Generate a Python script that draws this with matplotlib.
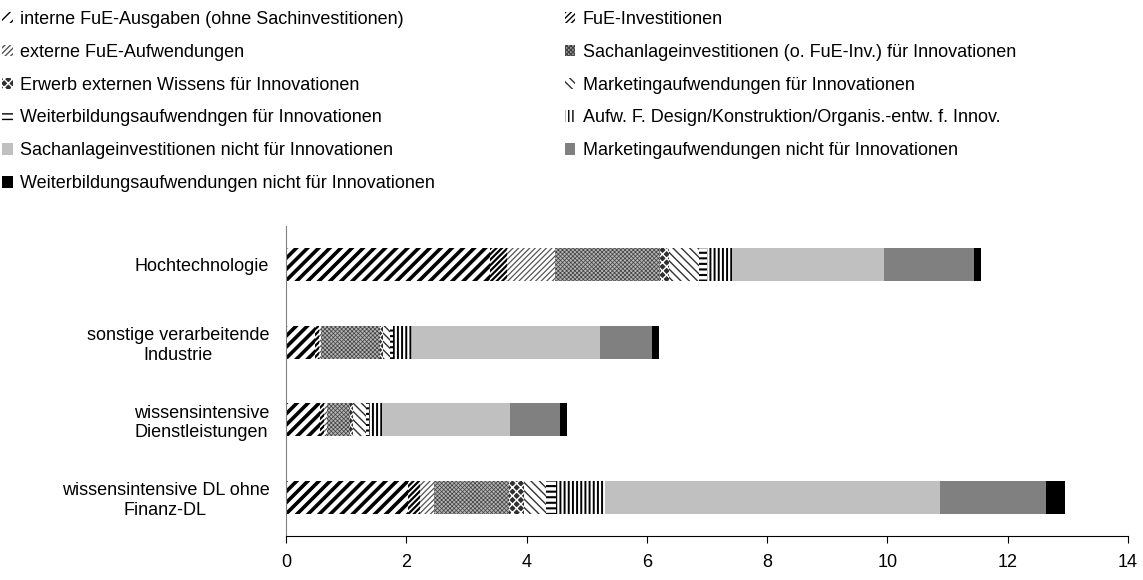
import matplotlib
matplotlib.use('Agg')
import matplotlib.pyplot as plt
from matplotlib.patches import Patch
import numpy as np

plt.rcParams['font.family'] = ['Liberation Sans', 'DejaVu Sans']

# categories (top to bottom)
categories = ['Hochtechnologie', 'sonstige verarbeitende\nIndustrie',
              'wissensintensive\nDienstleistungen', 'wissensintensive DL ohne\nFinanz-DL']

series_names = [
    'interne FuE-Ausgaben (ohne Sachinvestitionen)',
    'FuE-Investitionen',
    'externe FuE-Aufwendungen',
    'Sachanlageinvestitionen (o. FuE-Inv.) für Innovationen',
    'Erwerb externen Wissens für Innovationen',
    'Marketingaufwendungen für Innovationen',
    'Weiterbildungsaufwendngen für Innovationen',
    'Aufw. F. Design/Konstruktion/Organis.-entw. f. Innov.',
    'Sachanlageinvestitionen nicht für Innovationen',
    'Marketingaufwendungen nicht für Innovationen',
    'Weiterbildungsaufwendungen nicht für Innovationen',
]

# values per series, order as categories
interne_fue = [3.39, 0.48, 0.57, 2.03]
fue_inv = [0.28, 0.07, 0.06, 0.20]
externe_fue = [0.80, 0.04, 0.05, 0.23]
sachanlage_inno = [1.75, 0.97, 0.38, 1.24]
erwerb_wissen = [0.14, 0.05, 0.05, 0.26]
marketing_inno = [0.50, 0.12, 0.22, 0.37]
weiterbildung_inno = [0.14, 0.05, 0.05, 0.16]
design_inno = [0.41, 0.31, 0.21, 0.81]
sachanlage_nicht = [2.53, 3.13, 2.13, 5.57]
marketing_nicht = [1.50, 0.86, 0.84, 1.76]
weiterbildung_nicht = [0.11, 0.12, 0.12, 0.32]

values = [interne_fue, fue_inv, externe_fue, sachanlage_inno, erwerb_wissen,
          marketing_inno, weiterbildung_inno, design_inno, sachanlage_nicht,
          marketing_nicht, weiterbildung_nicht]

# (facecolor, hatch colour, hatch, hatch linewidth)
styles = [
    ('white', 'black', '///', 2.6),
    ('white', 'black', '//////', 1.6),
    ('white', '#555555', '//////', 0.9),
    ('#b4b4b4', '#404040', 'xxxxxxxx', 0.5),
    ('#303030', 'white', 'xxxx', 1.0),
    ('white', '#333333', '\\\\\\\\', 1.0),
    ('white', 'black', '---', 1.5),
    ('white', 'black', '||||', 1.4),
    ('#c0c0c0', '#c0c0c0', None, 1.0),
    ('#808080', '#808080', None, 1.0),
    ('black', 'black', None, 1.0),
]

fig = plt.figure(figsize=(11.43, 5.8), dpi=100)
ax = fig.add_axes([0.2502, 0.0759, 0.7367, 0.5344])

y = np.arange(len(categories))
left = np.zeros(len(categories))
handles = []
for name, vals, (fc, hc, hatch, hlw) in zip(series_names, values, styles):
    with plt.rc_context({'hatch.linewidth': hlw}):
        bars = ax.barh(y, vals, left=left, height=0.42, color=fc,
                       edgecolor=hc, linewidth=0, hatch=hatch, label=name)
        for b in bars:
            if hasattr(b, 'set_hatch_linewidth'):
                b.set_hatch_linewidth(hlw)
        h = Patch(facecolor=fc, edgecolor=hc, linewidth=0, hatch=hatch)
        if hasattr(h, 'set_hatch_linewidth'):
            h.set_hatch_linewidth(hlw)
    handles.append(h)
    left += np.array(vals)

ax.set_ylim(3.5, -0.5)
ax.set_xlim(0, 14)
ax.set_xticks(np.arange(0, 15, 2))
ax.set_yticks(y)
ax.set_yticklabels(categories, fontsize=13)
for t in ax.get_yticklabels():
    t.set_multialignment('center')
ax.tick_params(axis='x', labelsize=13, length=5, direction='out', pad=8)
ax.tick_params(axis='y', length=0, pad=12)
ax.spines['top'].set_visible(False)
ax.spines['right'].set_visible(False)
ax.spines['left'].set_color('#808080')

# row-major legend order in two columns
order = [0, 2, 4, 6, 8, 10, 1, 3, 5, 7, 9]
fig.legend([handles[i] for i in order], [series_names[i] for i in order],
           loc='upper left', bbox_to_anchor=(-0.008, 1.0), ncol=2, frameon=False,
           fontsize=13, handlelength=0.6, handleheight=0.6, handletextpad=0.4,
           labelspacing=0.88, columnspacing=7.2, borderaxespad=0.2)

fig.savefig('out.png', dpi=100)
